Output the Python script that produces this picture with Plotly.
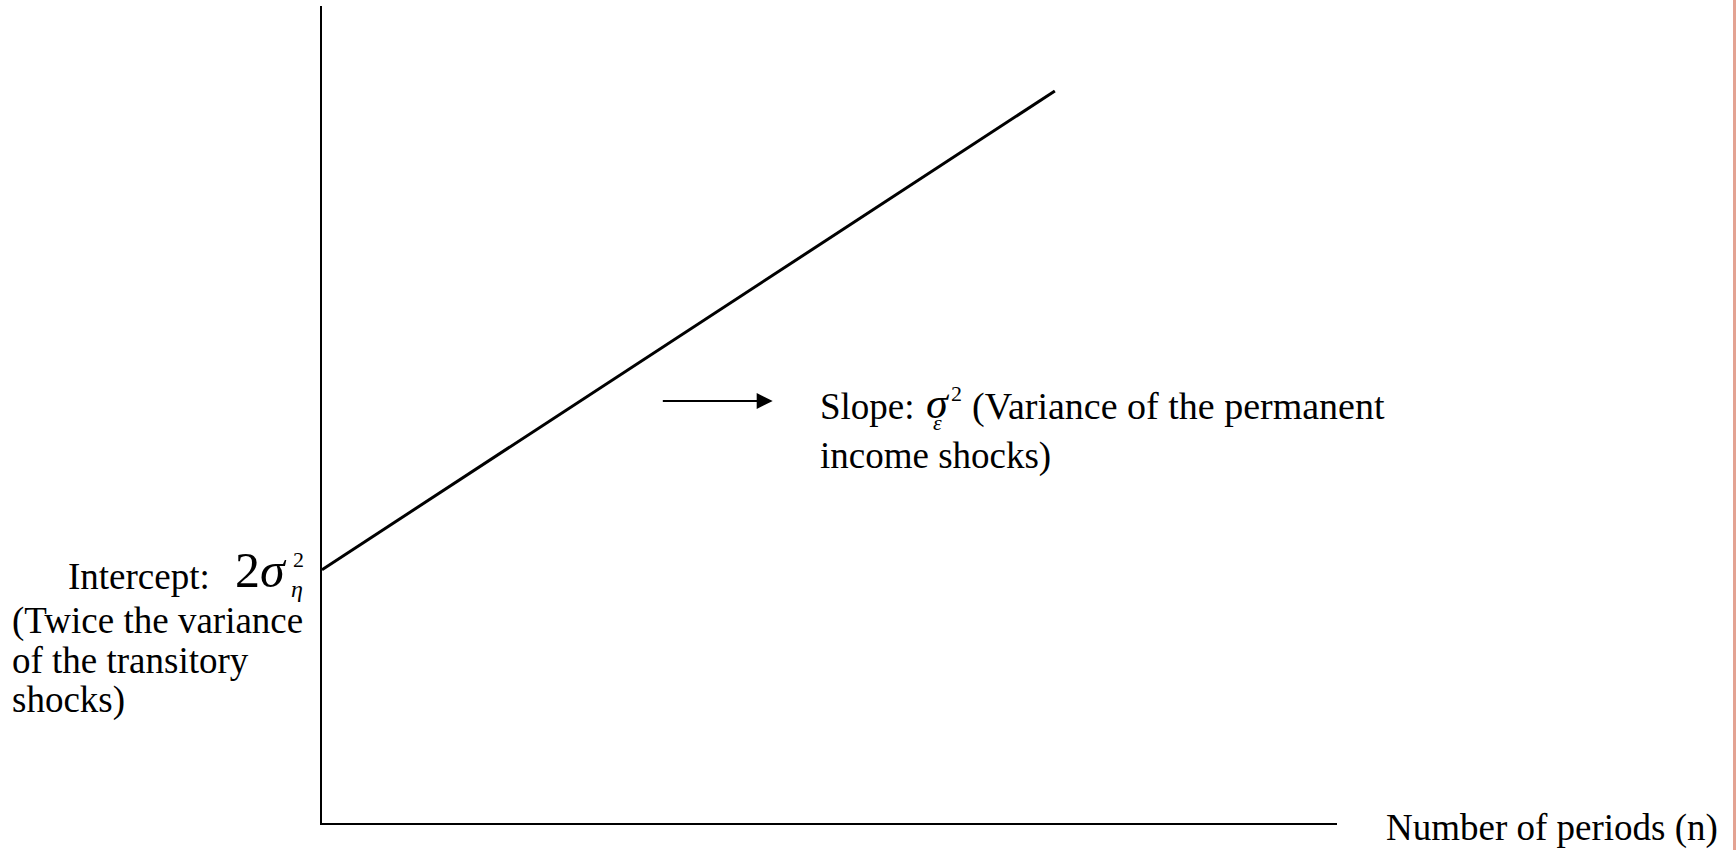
import plotly.graph_objects as go

# Variance of n-period income growth: intercept + slope * n
periods = [0, 10]
variance = [3.1, 8.96]

X_RANGE = [0, 13.85]
Y_RANGE = [0, 10]

W, H = 1736, 850
L, R, T, B = 322, 1337, 6, 823  # plot-area edges in pixels

FONT = "Liberation Serif, Times New Roman, serif"
TXT = 37


def px(x):
    return (x - L) / (R - L)


def py(y):
    return (B - y) / (B - T)


def label(text, x, y, size=TXT, italic=False):
    return dict(
        text=f"<i>{text}</i>" if italic else text,
        x=px(x), y=py(y), xref="paper", yref="paper",
        xanchor="left", yanchor="middle",
        showarrow=False, font=dict(family=FONT, size=size, color="black"),
    )


fig = go.Figure()
fig.add_trace(go.Scatter(
    x=periods, y=variance, mode="lines",
    line=dict(color="black", width=3), hoverinfo="skip",
))

annotations = [
    # intercept label
    label("Intercept:", 66, 576),
    label("2<i>σ</i>", 233, 570, size=50),
    label("2", 291, 559, size=22),
    label("η", 289, 589, size=24, italic=True),
    label("(Twice the variance", 10, 621),
    label("of the transitory", 10, 660),
    label("shocks)", 10, 700),
    # slope label
    label("Slope:", 818, 406),
    label("σ", 924, 403, size=44, italic=True),
    label("2", 949, 393, size=22),
    label("ε", 931, 423, size=22, italic=True),
    label("(Variance of the permanent", 970, 406, size=38),
    label("income shocks)", 818, 456),
    # x-axis title
    label("Number of periods (n)", 1384, 828),
    # pointer arrow
    dict(x=6.15, y=5.165, ax=4.63, ay=5.165, xref="x", yref="y",
         axref="x", ayref="y", text="", showarrow=True,
         arrowhead=2, arrowsize=1.6, arrowwidth=2, arrowcolor="black"),
]

fig.update_layout(
    width=W, height=H,
    margin=dict(l=L, r=W - R, t=T, b=H - B),
    paper_bgcolor="white", plot_bgcolor="white",
    showlegend=False,
    annotations=annotations,
    shapes=[dict(type="line", xref="paper", yref="paper",
                 x0=px(1734.5), x1=px(1734.5), y0=py(0), y1=py(H),
                 line=dict(color="#E3A393", width=3))],
)
fig.update_xaxes(range=X_RANGE, showline=True, linecolor="black", linewidth=2,
                 showgrid=False, zeroline=False, showticklabels=False, ticks="")
fig.update_yaxes(range=Y_RANGE, showline=True, linecolor="black", linewidth=2,
                 showgrid=False, zeroline=False, showticklabels=False, ticks="")

fig.write_html("out.html")
